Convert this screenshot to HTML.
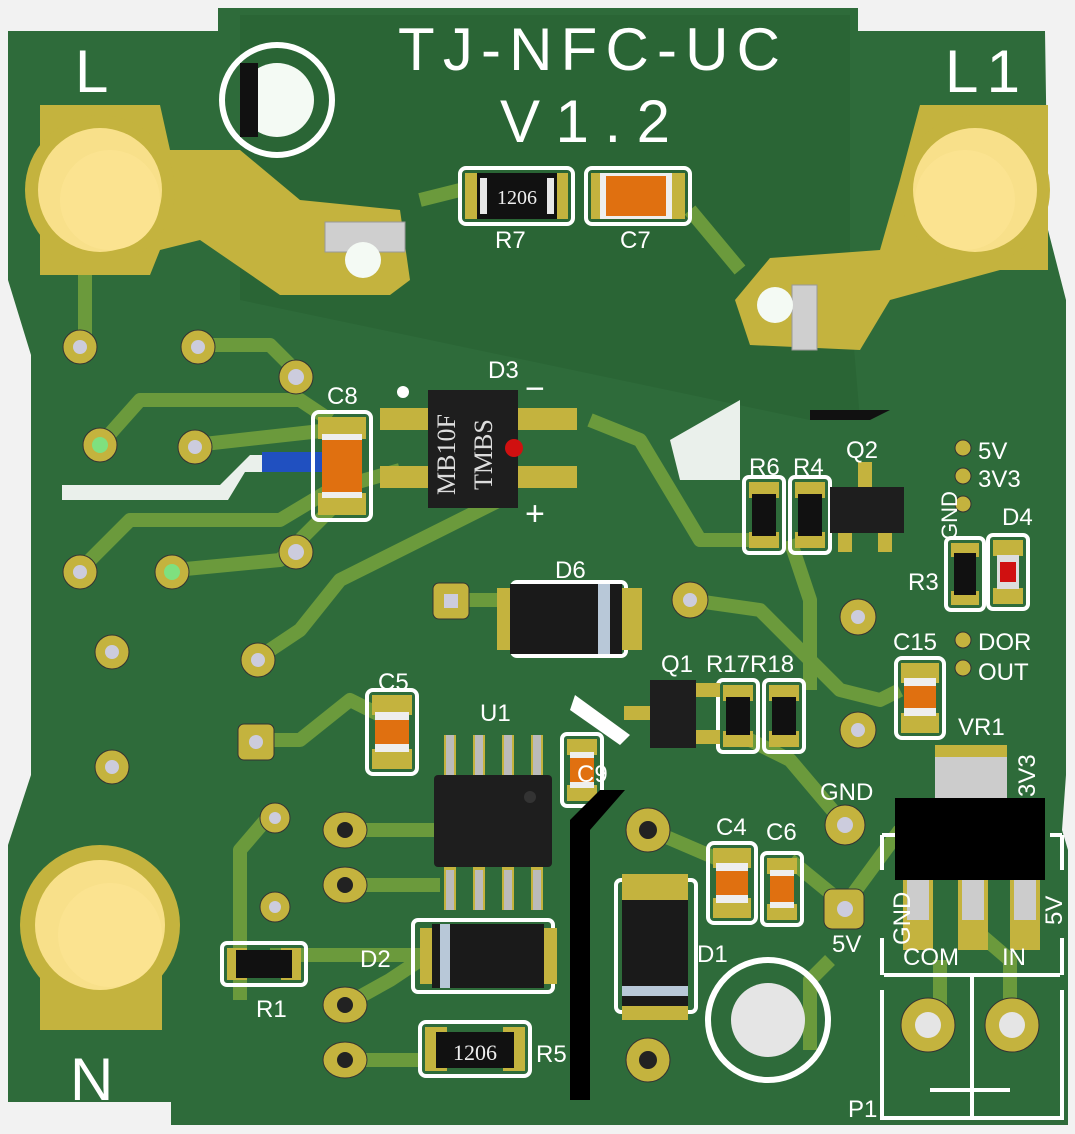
<!DOCTYPE html>
<html><head><style>
body{margin:0;background:#fff;}
svg{display:block;font-family:"Liberation Sans",sans-serif;}
</style></head><body>
<svg width="1075" height="1134" viewBox="0 0 1075 1134">
<rect width="1075" height="1134" fill="#f2f2f2"/>
<!-- board -->
<path d="M8,31 L218,31 L218,8 L858,8 L858,31 L1045,31 L1048,230 L1066,300 L1066,775 L1062,830 L1068,850 L1068,1125 L171,1125 L171,1102 L8,1102 L8,845 L31,775 L31,355 L8,280 Z" fill="#2e6b3a"/>
<path d="M240,15 L850,15 L850,300 L860,420 L810,420 L240,300 Z" fill="#2a6535"/>
<!-- traces -->
<g stroke="#6b9a3c" stroke-width="14" fill="none" stroke-linejoin="round">
<path d="M85,345 L85,270"/>
<path d="M200,345 L270,345 L300,375"/>
<path d="M100,445 L140,400 L300,400 L330,420"/>
<path d="M195,445 L330,430"/>
<path d="M80,570 L130,520 L280,520 L330,490 L400,470"/>
<path d="M175,570 L280,560 L330,510"/>
<path d="M255,660 L300,630 L340,580 L500,500"/>
<path d="M255,740 L300,740 L350,700 L390,720"/>
<path d="M270,815 L240,850 L240,1000"/>
<path d="M345,830 L440,830"/>
<path d="M345,885 L440,885"/>
<path d="M270,955 L420,955"/>
<path d="M345,1005 L390,980 L420,960"/>
<path d="M345,1060 L420,1060"/>
<path d="M450,600 L510,600"/>
<path d="M690,600 L760,610 L840,690 L880,700 L900,690"/>
<path d="M650,830 L720,860"/>
<path d="M845,825 L790,760 L750,740"/>
<path d="M845,905 L790,860"/>
<path d="M845,905 L900,830"/>
<path d="M810,1050 L810,980 L830,960"/>
<path d="M940,1030 L940,960"/>
<path d="M1010,1030 L1010,960 L975,930"/>
<path d="M420,200 L460,190"/>
<path d="M690,210 L740,270"/>
<path d="M790,540 L810,600 L810,690"/>
<path d="M590,420 L640,440 L700,540 L750,540"/>
</g>
<!-- big pads -->
<g>
<path d="M40,105 L160,105 L170,150 L240,150 L300,200 L400,210 L410,280 L390,295 L280,295 L200,240 L160,250 L150,275 L40,275 Z" fill="#c4b33e"/>
<circle cx="100" cy="190" r="75" fill="#c4b33e"/>
<circle cx="100" cy="190" r="62" fill="#f8e08a"/>
<circle cx="110" cy="200" r="50" fill="#fbe390"/>
<path d="M1048,105 L920,105 L900,180 L880,250 L770,258 L735,300 L750,345 L860,350 L890,300 L1000,270 L1048,270 Z" fill="#c4b33e"/>
<circle cx="975" cy="190" r="75" fill="#c4b33e"/>
<circle cx="975" cy="190" r="62" fill="#f8e08a"/>
<circle cx="965" cy="200" r="50" fill="#fbe390"/>
<circle cx="100" cy="925" r="80" fill="#c4b33e"/>
<path d="M40,960 L162,960 L162,1030 L40,1030 Z" fill="#c4b33e"/>
<circle cx="100" cy="925" r="65" fill="#f8e08a"/>
<circle cx="110" cy="935" r="52" fill="#fbe390"/>
</g>
<rect x="325" y="222" width="80" height="30" fill="#cfcfcf" stroke="#999"/>
<rect x="792" y="285" width="25" height="65" fill="#cfcfcf" stroke="#999"/>
<circle cx="363" cy="260" r="18" fill="#f4faf4"/>
<circle cx="775" cy="305" r="18" fill="#f4faf4"/>
<!-- mounting holes -->
<circle cx="277" cy="100" r="55" fill="none" stroke="#fff" stroke-width="6"/>
<circle cx="277" cy="100" r="37" fill="#f4faf4"/>
<rect x="240" y="63" width="18" height="74" fill="#111"/>
<circle cx="768" cy="1020" r="60" fill="none" stroke="#fff" stroke-width="6"/>
<circle cx="768" cy="1020" r="37" fill="#e5e5e5"/>
<!-- white cutouts -->
<path d="M670,440 L740,400 L740,480 L680,480 Z" fill="#fff" opacity=".9"/>
<path d="M810,410 L890,410 L870,420 L810,420 Z" fill="#111"/>
<!-- THT pads -->
<g fill="#c4b33e" stroke="#333" stroke-width="1">
<circle cx="80" cy="347" r="17"/><circle cx="198" cy="347" r="17"/><circle cx="296" cy="377" r="17"/>
<circle cx="100" cy="445" r="17"/><circle cx="195" cy="447" r="17"/>
<circle cx="80" cy="572" r="17"/><circle cx="172" cy="572" r="17"/><circle cx="296" cy="552" r="17"/>
<circle cx="112" cy="652" r="17"/><circle cx="258" cy="660" r="17"/>
<rect x="238" y="724" width="36" height="36" rx="6"/><circle cx="112" cy="767" r="17"/>
<circle cx="275" cy="818" r="15"/><circle cx="275" cy="907" r="15"/>
<ellipse cx="345" cy="830" rx="22" ry="18"/><ellipse cx="345" cy="885" rx="22" ry="18"/>
<ellipse cx="345" cy="1005" rx="22" ry="18"/><ellipse cx="345" cy="1060" rx="22" ry="18"/>
<rect x="433" y="583" width="36" height="36" rx="6"/><circle cx="690" cy="600" r="18"/>
<circle cx="648" cy="830" r="22"/><circle cx="648" cy="1060" r="22"/>
<circle cx="858" cy="617" r="18"/><circle cx="858" cy="730" r="18"/>
<circle cx="845" cy="825" r="20"/><rect x="824" y="889" width="40" height="40" rx="8"/>
<circle cx="928" cy="1025" r="27"/><circle cx="1012" cy="1025" r="27"/>
<circle cx="963" cy="448" r="8"/><circle cx="963" cy="476" r="8"/><circle cx="963" cy="504" r="8"/>
<circle cx="963" cy="640" r="8"/><circle cx="963" cy="668" r="8"/>
</g>
<g fill="#ccd">
<circle cx="80" cy="347" r="7"/><circle cx="198" cy="347" r="7"/><circle cx="296" cy="377" r="8"/>
<circle cx="195" cy="447" r="7"/><circle cx="296" cy="552" r="8"/><circle cx="112" cy="652" r="7"/><circle cx="258" cy="660" r="7"/>
<circle cx="256" cy="742" r="7"/><circle cx="112" cy="767" r="7"/><circle cx="275" cy="818" r="6"/><circle cx="275" cy="907" r="6"/>
<rect x="444" y="594" width="14" height="14"/><circle cx="690" cy="600" r="7"/>
<circle cx="858" cy="617" r="7"/><circle cx="858" cy="730" r="7"/><circle cx="845" cy="825" r="8"/><circle cx="845" cy="909" r="8"/>
<circle cx="928" cy="1025" r="13" fill="#e5e5e5"/><circle cx="1012" cy="1025" r="13" fill="#e5e5e5"/>
</g>
<g fill="#222"><circle cx="345" cy="830" r="8"/><circle cx="345" cy="885" r="8"/><circle cx="345" cy="1005" r="8"/><circle cx="345" cy="1060" r="8"/><circle cx="648" cy="830" r="9"/><circle cx="648" cy="1060" r="9"/></g>
<circle cx="100" cy="445" r="8" fill="#7fe07f"/><circle cx="172" cy="572" r="8" fill="#7fe07f"/><circle cx="80" cy="572" r="7" fill="#ccd"/>
<path d="M62,485 L220,485 L250,455 L262,455 L262,472 L245,472 L228,500 L62,500 Z" fill="#fff" opacity=".9"/>
<rect x="262" y="452" width="60" height="20" fill="#2050c0"/>
<!-- SMD resistors / caps -->
<g stroke="#fff" stroke-width="4" fill="none">
<rect x="460" y="168" width="113" height="56" rx="6"/>
<rect x="586" y="168" width="104" height="56" rx="6"/>
<rect x="313" y="412" width="58" height="108" rx="6"/>
<rect x="744" y="477" width="40" height="76" rx="5"/><rect x="790" y="477" width="40" height="76" rx="5"/>
<rect x="946" y="538" width="38" height="72" rx="5"/><rect x="988" y="535" width="40" height="74" rx="5"/>
<rect x="896" y="658" width="48" height="80" rx="6"/>
<rect x="718" y="680" width="40" height="72" rx="5"/><rect x="764" y="680" width="40" height="72" rx="5"/>
<rect x="367" y="690" width="50" height="84" rx="6"/>
<rect x="562" y="734" width="40" height="72" rx="5"/>
<rect x="708" y="843" width="48" height="80" rx="6"/><rect x="762" y="853" width="40" height="72" rx="5"/>
<rect x="222" y="943" width="84" height="42" rx="5"/>
<rect x="420" y="1022" width="110" height="54" rx="6"/>
<rect x="512" y="582" width="114" height="74" rx="5"/>
<rect x="413" y="920" width="140" height="72" rx="5"/>
<rect x="616" y="880" width="80" height="132" rx="5"/>
<path d="M882,835 L882,870 M882,835 L895,835 M1062,835 L1062,870 M1062,835 L1050,835 M882,990 L882,1118 L1062,1118 L1062,990 M882,938 L882,975 M1062,938 L1062,975 M884,975 L1060,975 M972,975 L972,1116 M930,1090 L1010,1090"/>
</g>
<g fill="#c4b33e">
<rect x="465" y="173" width="22" height="46"/><rect x="546" y="173" width="22" height="46"/>
<rect x="591" y="173" width="22" height="46"/><rect x="663" y="173" width="22" height="46"/>
<rect x="318" y="417" width="48" height="22"/><rect x="318" y="493" width="48" height="22"/>
<rect x="749" y="482" width="30" height="16"/><rect x="749" y="532" width="30" height="16"/>
<rect x="795" y="482" width="30" height="16"/><rect x="795" y="532" width="30" height="16"/>
<rect x="951" y="543" width="28" height="14"/><rect x="951" y="591" width="28" height="14"/>
<rect x="993" y="540" width="30" height="16"/><rect x="993" y="588" width="30" height="16"/>
<rect x="901" y="663" width="38" height="20"/><rect x="901" y="713" width="38" height="20"/>
<rect x="723" y="685" width="30" height="16"/><rect x="723" y="731" width="30" height="16"/>
<rect x="769" y="685" width="30" height="16"/><rect x="769" y="731" width="30" height="16"/>
<rect x="372" y="695" width="40" height="20"/><rect x="372" y="749" width="40" height="20"/>
<rect x="567" y="739" width="30" height="16"/><rect x="567" y="785" width="30" height="16"/>
<rect x="713" y="848" width="38" height="20"/><rect x="713" y="898" width="38" height="20"/>
<rect x="767" y="858" width="30" height="16"/><rect x="767" y="904" width="30" height="16"/>
<rect x="227" y="948" width="20" height="32"/><rect x="281" y="948" width="20" height="32"/>
<rect x="425" y="1027" width="22" height="44"/><rect x="503" y="1027" width="22" height="44"/>
<rect x="497" y="588" width="30" height="62"/><rect x="612" y="588" width="30" height="62"/>
<rect x="420" y="928" width="30" height="56"/><rect x="527" y="928" width="30" height="56"/>
<rect x="622" y="874" width="66" height="30"/><rect x="622" y="990" width="66" height="30"/>
<rect x="380" y="408" width="50" height="22"/><rect x="380" y="466" width="50" height="22"/>
<rect x="515" y="408" width="62" height="22"/><rect x="515" y="466" width="62" height="22"/>
<rect x="903" y="880" width="30" height="70"/><rect x="958" y="880" width="30" height="70"/><rect x="1010" y="880" width="30" height="70"/>
<rect x="935" y="745" width="72" height="50"/>
</g>
<!-- bodies -->
<rect x="477" y="173" width="80" height="46" fill="#111"/><rect x="480" y="178" width="74" height="36" fill="#e8e8e8"/><rect x="487" y="178" width="60" height="36" fill="#111"/>
<text x="517" y="204" font-size="20" fill="#eee" text-anchor="middle" font-family="Liberation Serif,serif">1206</text>
<rect x="600" y="173" width="72" height="46" fill="#eee"/><rect x="606" y="176" width="60" height="40" fill="#e07010"/>
<rect x="322" y="434" width="40" height="64" fill="#eee"/><rect x="322" y="440" width="40" height="52" fill="#e07010"/>
<rect x="436" y="1032" width="78" height="36" fill="#111"/>
<text x="475" y="1060" font-size="22" fill="#eee" text-anchor="middle" font-family="Liberation Serif,serif">1206</text>
<rect x="236" y="950" width="56" height="28" fill="#111"/>
<g fill="#111"><rect x="752" y="494" width="24" height="42"/><rect x="798" y="494" width="24" height="42"/><rect x="954" y="553" width="22" height="42"/><rect x="726" y="697" width="24" height="38"/><rect x="772" y="697" width="24" height="38"/></g>
<rect x="997" y="555" width="22" height="34" fill="#ddd"/><rect x="1000" y="562" width="16" height="20" fill="#d01010"/>
<rect x="904" y="678" width="32" height="38" fill="#eee"/><rect x="904" y="686" width="32" height="22" fill="#e07010"/>
<rect x="375" y="712" width="34" height="40" fill="#eee"/><rect x="375" y="720" width="34" height="24" fill="#e07010"/>
<rect x="570" y="752" width="24" height="36" fill="#eee"/><rect x="570" y="758" width="24" height="24" fill="#e07010"/>
<rect x="716" y="863" width="32" height="40" fill="#eee"/><rect x="716" y="871" width="32" height="24" fill="#e07010"/>
<rect x="770" y="870" width="24" height="38" fill="#eee"/><rect x="770" y="876" width="24" height="26" fill="#e07010"/>
<!-- diodes -->
<rect x="510" y="584" width="112" height="70" fill="#1a1a1a"/><rect x="598" y="584" width="12" height="70" fill="#b8c8d8"/>
<rect x="432" y="924" width="112" height="64" fill="#1a1a1a"/><rect x="440" y="924" width="10" height="64" fill="#b8c8d8"/>
<rect x="622" y="900" width="66" height="106" fill="#1a1a1a"/><rect x="622" y="986" width="66" height="10" fill="#b8c8d8"/>
<!-- D3 -->
<rect x="428" y="390" width="90" height="118" fill="#1e1e1e"/>
<circle cx="514" cy="448" r="9" fill="#d01010"/>
<text transform="translate(455,495) rotate(-90)" font-size="26" fill="#ddd" font-family="Liberation Serif,serif">MB10F</text>
<text transform="translate(492,490) rotate(-90)" font-size="26" fill="#ddd" font-family="Liberation Serif,serif">TMBS</text>
<!-- U1 -->
<g fill="#c4b33e"><rect x="444" y="735" width="12" height="45"/><rect x="473" y="735" width="12" height="45"/><rect x="502" y="735" width="12" height="45"/><rect x="531" y="735" width="12" height="45"/>
<rect x="444" y="865" width="12" height="45"/><rect x="473" y="865" width="12" height="45"/><rect x="502" y="865" width="12" height="45"/><rect x="531" y="865" width="12" height="45"/></g>
<g fill="#bbb"><rect x="446" y="735" width="8" height="40"/><rect x="475" y="735" width="8" height="40"/><rect x="504" y="735" width="8" height="40"/><rect x="533" y="735" width="8" height="40"/>
<rect x="446" y="870" width="8" height="40"/><rect x="475" y="870" width="8" height="40"/><rect x="504" y="870" width="8" height="40"/><rect x="533" y="870" width="8" height="40"/></g>
<rect x="434" y="775" width="118" height="92" rx="4" fill="#1e1e1e"/><circle cx="530" cy="797" r="6" fill="#333"/>
<!-- Q1, Q2 -->
<rect x="624" y="706" width="30" height="14" fill="#c4b33e"/><rect x="690" y="683" width="30" height="14" fill="#c4b33e"/><rect x="690" y="730" width="30" height="14" fill="#c4b33e"/>
<rect x="650" y="680" width="46" height="68" fill="#1e1e1e"/>
<rect x="838" y="530" width="14" height="22" fill="#c4b33e"/><rect x="878" y="530" width="14" height="22" fill="#c4b33e"/><rect x="858" y="462" width="14" height="26" fill="#c4b33e"/>
<rect x="830" y="487" width="74" height="46" fill="#1e1e1e"/>
<!-- VR1 -->
<rect x="935" y="757" width="72" height="42" fill="#ccc"/>
<rect x="895" y="798" width="150" height="82" fill="#000"/>
<g fill="#ccc"><rect x="907" y="880" width="22" height="40"/><rect x="962" y="880" width="22" height="40"/><rect x="1014" y="880" width="22" height="40"/></g>
<!-- black strip -->
<path d="M600,790 L625,790 L590,830 L590,1100 L570,1100 L570,820 Z" fill="#000"/>
<path d="M575,695 L630,735 L620,745 L570,710 Z" fill="#fff"/>
<!-- silk text -->
<g fill="#fff" font-size="24">
<text x="488" y="378">D3</text><text x="555" y="578">D6</text><text x="480" y="721">U1</text>
<text x="327" y="404">C8</text><text x="378" y="690">C5</text><text x="577" y="782">C9</text>
<text x="495" y="248">R7</text><text x="620" y="248">C7</text>
<text x="749" y="475">R6</text><text x="793" y="475">R4</text><text x="846" y="458">Q2</text>
<text x="978" y="459">5V</text><text x="978" y="487">3V3</text><text x="1002" y="525">D4</text>
<text x="908" y="590">R3</text><text x="893" y="650">C15</text>
<text x="978" y="650">DOR</text><text x="978" y="680">OUT</text><text x="958" y="735">VR1</text>
<text x="661" y="672">Q1</text><text x="706" y="672">R17R18</text>
<text x="820" y="800">GND</text><text x="716" y="835">C4</text><text x="766" y="840">C6</text>
<text x="832" y="952">5V</text><text x="697" y="962">D1</text>
<text x="360" y="967">D2</text><text x="256" y="1017">R1</text><text x="536" y="1062">R5</text>
<text x="903" y="965">COM</text><text x="1002" y="965">IN</text><text x="848" y="1117">P1</text>
<text transform="translate(957,540) rotate(-90)" font-size="22">GND</text>
<text transform="translate(910,945) rotate(-90)">GND</text>
<text transform="translate(1062,925) rotate(-90)">5V</text>
<text transform="translate(1035,797) rotate(-90)">3V3</text>
<text x="398" y="70" font-size="60" textLength="382" lengthAdjust="spacing">TJ-NFC-UC</text>
<text x="500" y="142" font-size="60" textLength="170" lengthAdjust="spacing">V1.2</text>
<text x="75" y="92" font-size="60">L</text>
<text x="945" y="92" font-size="60" textLength="75" lengthAdjust="spacing">L1</text>
<text x="70" y="1100" font-size="60">N</text>
<text x="525" y="400" font-size="34">−</text><text x="525" y="525" font-size="34">+</text>
</g>
<circle cx="403" cy="392" r="6" fill="#fff"/>
</svg>
</body></html>
